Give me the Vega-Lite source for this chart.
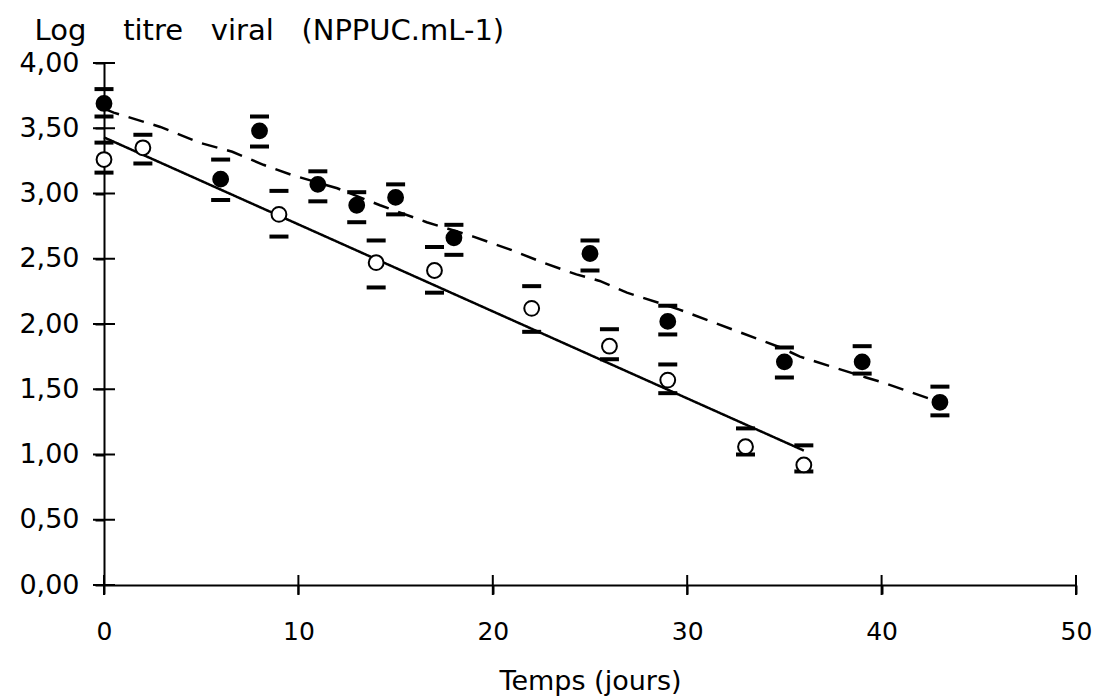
{
  "$schema": "https://vega.github.io/schema/vega-lite/v6.json",
  "width": 972,
  "height": 522,
  "autosize": {"type": "none"},
  "padding": {"left": 104, "top": 63, "right": 18, "bottom": 114},
  "background": "white",
  "config": {
    "view": {"stroke": null},
    "font": "DejaVu Sans",
    "tick": {"opacity": 1},
    "axis": {"grid": false, "domainColor": "black", "domainWidth": 2, "tickColor": "black", "tickWidth": 2, "labelColor": "black", "titleColor": "black", "labelFont": "DejaVu Sans", "titleFont": "DejaVu Sans", "labelFontWeight": "normal", "titleFontWeight": "normal", "labelFlush": false}
  },
  "datasets": {
    "mesures": [
      {"serie": "plein", "t": 0, "y": 3.69, "lo": 3.59, "hi": 3.80},
      {"serie": "plein", "t": 6, "y": 3.11, "lo": 2.95, "hi": 3.26},
      {"serie": "plein", "t": 8, "y": 3.48, "lo": 3.36, "hi": 3.59},
      {"serie": "plein", "t": 11, "y": 3.07, "lo": 2.94, "hi": 3.17},
      {"serie": "plein", "t": 13, "y": 2.91, "lo": 2.78, "hi": 3.01},
      {"serie": "plein", "t": 15, "y": 2.97, "lo": 2.84, "hi": 3.07},
      {"serie": "plein", "t": 18, "y": 2.66, "lo": 2.53, "hi": 2.76},
      {"serie": "plein", "t": 25, "y": 2.54, "lo": 2.41, "hi": 2.64},
      {"serie": "plein", "t": 29, "y": 2.02, "lo": 1.92, "hi": 2.14},
      {"serie": "plein", "t": 35, "y": 1.71, "lo": 1.59, "hi": 1.82},
      {"serie": "plein", "t": 39, "y": 1.71, "lo": 1.62, "hi": 1.83},
      {"serie": "plein", "t": 43, "y": 1.40, "lo": 1.30, "hi": 1.52},
      {"serie": "vide", "t": 0, "y": 3.26, "lo": 3.16, "hi": 3.39},
      {"serie": "vide", "t": 2, "y": 3.35, "lo": 3.23, "hi": 3.45},
      {"serie": "vide", "t": 9, "y": 2.84, "lo": 2.67, "hi": 3.02},
      {"serie": "vide", "t": 14, "y": 2.47, "lo": 2.28, "hi": 2.64},
      {"serie": "vide", "t": 17, "y": 2.41, "lo": 2.24, "hi": 2.59},
      {"serie": "vide", "t": 22, "y": 2.12, "lo": 1.94, "hi": 2.29},
      {"serie": "vide", "t": 26, "y": 1.83, "lo": 1.73, "hi": 1.96},
      {"serie": "vide", "t": 29, "y": 1.57, "lo": 1.47, "hi": 1.69},
      {"serie": "vide", "t": 33, "y": 1.06, "lo": 1.00, "hi": 1.20},
      {"serie": "vide", "t": 36, "y": 0.92, "lo": 0.87, "hi": 1.07}
    ],
    "courbes": [
      {"serie": "plein", "t": 0, "y": 3.65},
      {"serie": "plein", "t": 0.5, "y": 3.62},
      {"serie": "plein", "t": 2.9, "y": 3.51},
      {"serie": "plein", "t": 4.9, "y": 3.39},
      {"serie": "plein", "t": 6.6, "y": 3.32},
      {"serie": "plein", "t": 8.2, "y": 3.22},
      {"serie": "plein", "t": 9.7, "y": 3.14},
      {"serie": "plein", "t": 12, "y": 3.04},
      {"serie": "plein", "t": 14.2, "y": 2.91},
      {"serie": "plein", "t": 16.6, "y": 2.78},
      {"serie": "plein", "t": 19, "y": 2.67},
      {"serie": "plein", "t": 20.9, "y": 2.57},
      {"serie": "plein", "t": 22.6, "y": 2.47},
      {"serie": "plein", "t": 24.3, "y": 2.38},
      {"serie": "plein", "t": 25.5, "y": 2.33},
      {"serie": "plein", "t": 26.9, "y": 2.24},
      {"serie": "plein", "t": 29, "y": 2.14},
      {"serie": "plein", "t": 29.6, "y": 2.11},
      {"serie": "plein", "t": 34.8, "y": 1.82},
      {"serie": "plein", "t": 35.8, "y": 1.75},
      {"serie": "plein", "t": 39.2, "y": 1.59},
      {"serie": "plein", "t": 40.1, "y": 1.55},
      {"serie": "plein", "t": 43, "y": 1.40},
      {"serie": "vide", "t": 0, "y": 3.43},
      {"serie": "vide", "t": 36, "y": 1.03}
    ],
    "graduationsY": [{"v": 0}, {"v": 0.5}, {"v": 1}, {"v": 1.5}, {"v": 2}, {"v": 2.5}, {"v": 3}, {"v": 3.5}, {"v": 4}],
    "graduationsX": [{"v": 0}, {"v": 10}, {"v": 20}, {"v": 30}, {"v": 40}, {"v": 50}]
  },
  "layer": [
    {
      "data": {"name": "graduationsY"},
      "mark": {"type": "tick", "orient": "horizontal", "size": 22, "thickness": 2, "color": "black", "opacity": 1},
      "encoding": {
        "x": {"datum": 0, "type": "quantitative", "scale": {"domain": [0, 50], "nice": false, "zero": false},
          "axis": {"values": [0, 10, 20, 30, 40, 50], "title": "Temps (jours)", "labelFontSize": 25, "tickSize": 9, "labelPadding": 25, "titleFontSize": 27, "titleBaseline": "alphabetic", "titleY": 104}},
        "y": {"field": "v", "type": "quantitative", "scale": {"domain": [0, 4], "nice": false},
          "axis": {"values": [0, 0.5, 1, 1.5, 2, 2.5, 3, 3.5, 4], "labelExpr": "replace(format(datum.value, '.2f'), '.', ',')", "labelFontSize": 27, "tickSize": 9, "labelPadding": 16,
            "title": "Log\u00a0\u00a0\u00a0\u00a0titre\u00a0\u00a0\u00a0viral\u00a0\u00a0\u00a0(NPPUC.mL-1)", "titleFontSize": 29, "titleAngle": 0, "titleAlign": "left", "titleBaseline": "alphabetic", "titleX": -70, "titleY": -24}}
      }
    },
    {
      "data": {"name": "graduationsX"},
      "mark": {"type": "tick", "orient": "vertical", "size": 20, "thickness": 2, "color": "black", "opacity": 1},
      "encoding": {
        "x": {"field": "v", "type": "quantitative"},
        "y": {"datum": 0, "type": "quantitative"}
      }
    },
    {
      "data": {"name": "courbes"},
      "mark": {"type": "line", "color": "black", "strokeWidth": 2.5},
      "encoding": {
        "x": {"field": "t", "type": "quantitative"},
        "y": {"field": "y", "type": "quantitative"},
        "detail": {"field": "serie"},
        "strokeDash": {"field": "serie", "type": "nominal", "scale": {"domain": ["plein", "vide"], "range": [[16, 10], [1, 0]]}, "legend": null}
      }
    },
    {
      "data": {"name": "mesures"},
      "mark": {"type": "tick", "orient": "horizontal", "size": 19, "thickness": 4, "color": "black", "opacity": 1},
      "encoding": {
        "x": {"field": "t", "type": "quantitative"},
        "y": {"field": "lo", "type": "quantitative"}
      }
    },
    {
      "data": {"name": "mesures"},
      "mark": {"type": "tick", "orient": "horizontal", "size": 19, "thickness": 4, "color": "black", "opacity": 1},
      "encoding": {
        "x": {"field": "t", "type": "quantitative"},
        "y": {"field": "hi", "type": "quantitative"}
      }
    },
    {
      "data": {"name": "mesures"},
      "mark": {"type": "point", "shape": "circle", "size": 220, "stroke": "black", "strokeWidth": 2, "opacity": 1, "filled": false},
      "encoding": {
        "x": {"field": "t", "type": "quantitative"},
        "y": {"field": "y", "type": "quantitative"},
        "fill": {"field": "serie", "type": "nominal", "scale": {"domain": ["plein", "vide"], "range": ["black", "white"]}, "legend": null}
      }
    }
  ]
}
